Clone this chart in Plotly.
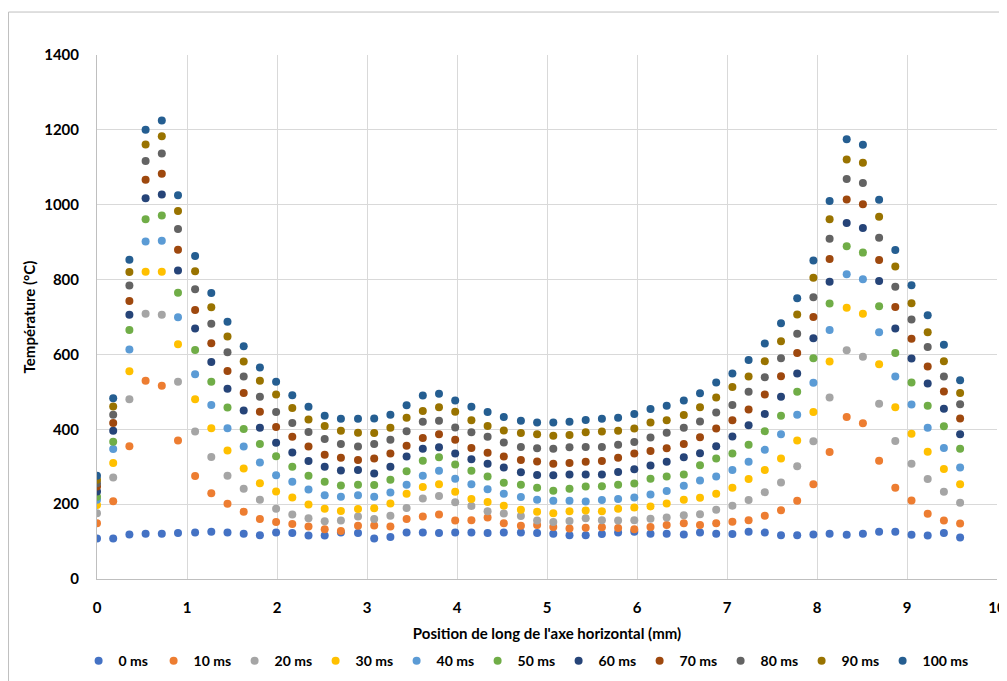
import plotly.graph_objects as go

x_mm = [0.00,0.18,0.36,0.54,0.72,0.90,1.09,1.27,1.45,1.63,1.81,1.99,2.17,2.35,2.53,2.71,2.90,3.08,3.26,3.44,
        3.62,3.80,3.98,4.16,4.34,4.52,4.71,4.89,5.07,5.25,5.43,5.61,5.79,5.97,6.15,6.33,6.52,6.70,6.88,7.06,
        7.24,7.42,7.60,7.78,7.96,8.14,8.33,8.51,8.69,8.87,9.05,9.23,9.41,9.59]

t0 = [108,108,119,121,121,123,124,126,124,121,117,124,123,116,116,124,123,108,112,124,
      124,123,124,124,123,124,124,123,121,117,117,120,124,126,121,121,119,124,121,120,
      126,124,117,117,119,121,118,121,126,126,118,116,123,111]
t10 = [149,208,355,530,516,370,275,229,201,180,160,152,147,140,133,128,142,143,140,160,
       167,172,156,157,164,149,142,144,139,135,137,138,136,133,139,144,149,144,149,153,
       157,169,184,209,253,339,433,416,316,244,210,174,156,148]
t20 = [176,271,480,709,706,527,394,326,276,241,212,188,172,162,154,156,167,160,169,190,
       215,222,205,195,181,175,168,156,152,155,162,157,156,157,161,164,170,173,185,196,
       211,232,258,301,368,485,611,594,468,369,308,267,233,204]
t30 = [198,310,555,821,821,627,480,403,343,295,256,234,218,199,188,182,187,189,202,228,
       246,253,233,214,206,196,185,180,176,181,183,181,188,191,194,202,212,217,228,244,
       267,291,322,370,446,581,725,709,574,459,388,340,294,253]
t40 = [212,347,613,902,904,699,547,465,403,354,311,277,260,239,224,220,224,220,231,252,
       276,289,268,253,240,228,219,212,209,209,207,211,214,218,226,235,249,263,274,291,
       313,345,387,439,524,665,814,801,659,541,466,404,350,298]
t50 = [220,367,665,961,971,765,612,527,458,401,361,328,300,276,260,250,252,251,265,288,
       316,325,306,289,274,257,252,244,236,241,247,248,252,255,268,274,279,304,322,335,
       359,395,436,500,590,736,889,872,729,604,525,463,408,348]
t60 = [234,396,706,1017,1027,824,669,580,508,450,404,364,338,315,300,290,291,282,300,327,
       348,352,335,320,308,298,285,278,277,279,279,279,286,293,303,313,325,336,355,381,
       411,441,487,549,643,794,951,938,796,669,589,522,455,387]
t70 = [247,417,743,1067,1083,880,719,630,556,497,447,406,380,354,332,324,318,322,335,356,
       377,387,372,350,337,327,318,314,308,310,313,315,324,335,342,349,361,379,402,424,
       453,493,542,604,700,855,1014,1001,852,727,642,568,501,429]
t80 = [256,439,784,1117,1137,935,774,682,606,541,487,446,417,393,374,361,354,361,372,395,
       420,423,405,392,380,365,353,349,348,352,353,353,359,366,378,391,404,421,445,465,
       500,539,590,655,753,909,1069,1058,912,781,693,620,541,467]
t90 = [265,461,820,1161,1183,983,822,726,648,581,530,493,457,426,409,396,391,390,404,431,
       449,459,447,424,409,397,390,387,383,385,392,394,396,402,418,424,438,459,485,513,
       541,582,635,707,805,961,1121,1112,968,835,737,659,582,497]
t100 = [276,483,853,1200,1225,1025,863,764,687,622,565,527,491,460,436,428,428,429,439,464,
        490,495,477,460,446,433,423,418,418,420,425,428,431,441,454,463,477,496,525,549,
        585,629,683,750,851,1010,1175,1160,1013,879,785,705,626,531]

series_names = ["0 ms", "10 ms", "20 ms", "30 ms", "40 ms", "50 ms",
                "60 ms", "70 ms", "80 ms", "90 ms", "100 ms"]
series_values = [t0, t10, t20, t30, t40, t50, t60, t70, t80, t90, t100]
series_colors = ["#4472C4", "#ED7D31", "#A5A5A5", "#FFC000", "#5B9BD5", "#70AD47",
                 "#264478", "#9E480E", "#636363", "#997300", "#255E91"]

FONT = "Lato"
fig = go.Figure()
for name, vals, col in zip(series_names, series_values, series_colors):
    lw = 30 if name == "0 ms" else (50 if name == "100 ms" else 36)
    fig.add_trace(go.Scatter(x=x_mm, y=vals, mode="markers", name=name, legendwidth=lw,
                             marker=dict(color=col, size=8, line=dict(width=0))))

# page body has an 8px margin, so the figure is 8px smaller and margins reduced
fig.update_layout(
    width=999, height=673,
    margin=dict(l=89, r=10, t=47, b=102, autoexpand=False),
    paper_bgcolor="white", plot_bgcolor="white",
    font=dict(family=FONT, size=15, color="#000000"),
    showlegend=True,
    legend=dict(orientation="h", x=0.479, xanchor="center", y=-0.157, yanchor="middle",
                font=dict(family=FONT, size=14, color="#000000", weight="bold"),
                itemwidth=30, traceorder="normal", entrywidthmode="pixels", entrywidth=36,
                tracegroupgap=0),
    shapes=[dict(type="rect", xref="paper", yref="paper", x0=-0.0983, x1=1.03,
                 y0=-0.25, y1=1.082, line=dict(color="#BFBFBF", width=1))],
)
fig.update_xaxes(range=[0, 10], dtick=1, tick0=0, showgrid=True, gridcolor="#D9D9D9",
                 gridwidth=1, zeroline=False, showline=True, linecolor="#BFBFBF", linewidth=1,
                 mirror=False, ticks="", ticklabelstandoff=15, automargin=False,
                 tickfont=dict(family=FONT, size=15, weight="bold"),
                 title=dict(text="Position de long de l'axe horizontal (mm)", standoff=13,
                            font=dict(family=FONT, size=15, weight="bold")))
fig.update_yaxes(range=[0, 1400], dtick=200, tick0=0, showgrid=True, gridcolor="#D9D9D9",
                 gridwidth=1, zeroline=False, showline=True, linecolor="#BFBFBF", linewidth=1,
                 ticks="", ticklabelstandoff=14, automargin=False,
                 tickfont=dict(family=FONT, size=15, weight="bold"),
                 title=dict(text="Température (°C)", standoff=4,
                            font=dict(family=FONT, size=15, weight="bold")))

fig.write_html("out.html")
